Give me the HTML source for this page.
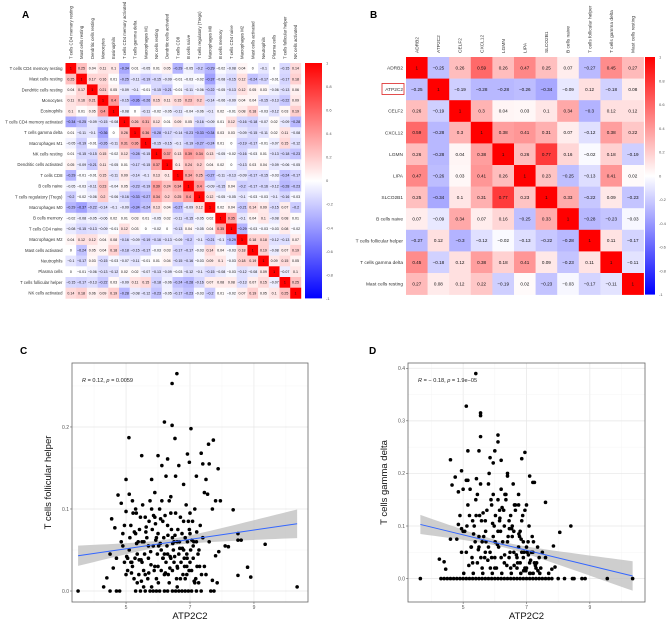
<!DOCTYPE html>
<html><head><meta charset="utf-8"><style>
html,body{margin:0;padding:0;background:#fff;}
svg{display:block;font-family:"Liberation Sans",sans-serif;}
</style></head><body>
<svg id="fig" width="669" height="623" viewBox="0 0 669 623" xmlns="http://www.w3.org/2000/svg">
<text x="22" y="18" font-size="10" font-weight="bold">A</text>
<text x="370" y="18" font-size="10" font-weight="bold">B</text>
<text x="20" y="354" font-size="10" font-weight="bold">C</text>
<text x="369" y="354" font-size="10" font-weight="bold">D</text>
<g id="gA"></g>
<g id="gB"></g>
<g id="gC"></g>
<g id="gD"></g>
</svg>
<script>
const labelsA = ["T cells CD4 memory resting","Mast cells resting","Dendritic cells resting","Monocytes","Eosinophils","T cells CD4 memory activated","T cells gamma delta","Macrophages M1","NK cells resting","Dendritic cells activated","T cells CD8","B cells naive","T cells regulatory (Tregs)","Macrophages M0","B cells memory","T cells CD4 naive","Macrophages M2","Mast cells activated","Neutrophils","Plasma cells","T cells follicular helper","NK cells activated"];
const matA = [
[1,0.25,0.04,0.11,0.1,-0.34,0.01,-0.05,0.01,0.05,-0.29,-0.05,-0.2,-0.29,-0.02,-0.08,0.04,0,-0.1,0,-0.15,0.14],
[0.25,1,0.17,0.16,0.01,-0.25,-0.11,-0.19,-0.15,-0.09,-0.01,-0.03,-0.02,-0.37,-0.08,-0.15,0.12,-0.24,-0.17,-0.01,-0.17,0.18],
[0.04,0.17,1,0.21,0.05,-0.09,-0.1,-0.01,-0.15,-0.21,-0.01,-0.11,-0.06,-0.22,-0.05,-0.13,0.12,0.05,0.03,-0.06,-0.13,0.06],
[0.11,0.16,0.21,1,0.4,-0.15,-0.36,-0.26,0.15,0.11,0.15,0.23,0.2,-0.14,-0.06,-0.09,0.04,0.04,-0.15,-0.13,-0.22,0.09],
[0.1,0.01,0.05,0.4,1,-0.08,0,-0.11,-0.02,-0.05,-0.11,-0.04,-0.06,-0.1,0.02,-0.01,0.08,0.18,-0.03,-0.12,0.03,0.19],
[-0.34,-0.25,-0.09,-0.15,-0.08,1,0.26,0.31,0.12,0.01,0.09,0.05,-0.16,-0.09,0.01,0.12,-0.16,-0.18,-0.07,0.02,-0.09,-0.28],
[0.01,-0.11,-0.1,-0.36,0,0.26,1,0.36,-0.28,-0.17,-0.14,-0.23,-0.33,-0.34,0.03,0.03,-0.09,-0.15,-0.11,0.02,0.11,-0.08],
[-0.05,-0.19,-0.01,-0.26,-0.11,0.31,0.36,1,-0.15,-0.15,-0.1,-0.19,-0.27,-0.24,0.01,0,-0.19,-0.17,-0.01,-0.07,0.15,-0.12],
[0.01,-0.15,-0.15,0.15,-0.02,0.12,-0.28,-0.15,1,0.37,0.13,0.39,0.34,0.13,-0.05,-0.02,-0.16,-0.03,0.01,-0.13,-0.18,-0.23],
[0.05,-0.09,-0.21,0.11,-0.05,0.01,-0.17,-0.15,0.37,1,0.1,0.24,0.2,0.04,0.02,0,-0.13,0.03,0.04,-0.09,-0.06,-0.05],
[-0.29,-0.01,-0.01,0.15,-0.11,0.09,-0.14,-0.1,0.13,0.1,1,0.34,0.25,-0.27,-0.11,-0.13,-0.09,-0.17,-0.15,-0.03,-0.24,-0.17],
[-0.05,-0.03,-0.11,0.23,-0.04,0.05,-0.23,-0.19,0.39,0.24,0.34,1,0.4,-0.09,-0.15,0.04,-0.2,-0.17,-0.16,-0.12,-0.28,-0.23],
[-0.2,-0.02,-0.06,0.2,-0.06,-0.16,-0.33,-0.27,0.34,0.2,0.25,0.4,1,0.12,-0.05,-0.05,-0.1,-0.03,-0.03,-0.1,-0.16,-0.03],
[-0.29,-0.37,-0.22,-0.14,-0.1,-0.09,-0.34,-0.24,0.13,0.04,-0.27,-0.09,0.12,1,0.02,0.04,-0.21,0.14,0.09,-0.15,0.07,-0.2],
[-0.02,-0.08,-0.05,-0.06,0.02,0.01,0.03,0.01,-0.05,0.02,-0.11,-0.15,-0.05,0.02,1,0.35,-0.1,0.04,0.1,-0.08,0.08,0.01],
[-0.08,-0.15,-0.13,-0.09,-0.01,0.12,0.03,0,-0.02,0,-0.13,0.04,-0.05,0.04,0.35,1,-0.29,-0.03,-0.03,-0.03,0.08,-0.02],
[0.04,0.12,0.12,0.04,0.08,-0.16,-0.09,-0.19,-0.16,-0.13,-0.09,-0.2,-0.1,-0.21,-0.1,-0.29,1,0.18,0.18,-0.12,-0.13,0.07],
[0,-0.24,0.05,0.04,0.18,-0.18,-0.15,-0.17,-0.03,0.03,-0.17,-0.17,-0.03,0.14,0.04,-0.03,0.18,1,0.19,-0.08,0.07,0.19],
[-0.1,-0.17,0.03,-0.15,-0.03,-0.07,-0.11,-0.01,0.01,0.04,-0.15,-0.16,-0.03,0.09,0.1,-0.03,0.18,0.19,1,0.09,0.15,0.05],
[0,-0.01,-0.06,-0.13,-0.12,0.02,0.02,-0.07,-0.13,-0.09,-0.03,-0.12,-0.1,-0.15,-0.08,-0.03,-0.12,-0.08,0.09,1,-0.07,0.1],
[-0.15,-0.17,-0.13,-0.22,0.03,-0.09,0.11,0.15,-0.18,-0.06,-0.24,-0.28,-0.16,0.07,0.08,0.08,-0.13,0.07,0.15,-0.07,1,0.25],
[0.14,0.18,0.06,0.09,0.19,-0.28,-0.08,-0.12,-0.23,-0.05,-0.17,-0.23,-0.03,-0.2,0.01,-0.02,0.07,0.19,0.05,0.1,0.25,1]];
const labelsB = ["ADRB2","ATP2C2","CELF2","CXCL12","LGMN","LIPA","SLCO2B1","B cells naive","T cells follicular helper","T cells gamma delta","Mast cells resting"];
const matB = [
[1,-0.25,0.26,0.59,0.26,0.47,0.25,0.07,-0.27,0.45,0.27],
[-0.25,1,-0.19,-0.28,-0.28,-0.26,-0.34,-0.09,0.12,-0.18,0.08],
[0.26,-0.19,1,0.3,0.04,0.03,0.1,0.34,-0.3,0.12,0.12],
[0.59,-0.28,0.3,1,0.38,0.41,0.31,0.07,-0.12,0.38,0.22],
[0.26,-0.28,0.04,0.38,1,0.26,0.77,0.16,-0.02,0.18,-0.19],
[0.47,-0.26,0.03,0.41,0.26,1,0.23,-0.25,-0.13,0.41,0.02],
[0.25,-0.34,0.1,0.31,0.77,0.23,1,0.33,-0.22,0.09,-0.23],
[0.07,-0.09,0.34,0.07,0.16,-0.25,0.33,1,-0.28,-0.23,-0.03],
[-0.27,0.12,-0.3,-0.12,-0.02,-0.13,-0.22,-0.28,1,0.11,-0.17],
[0.45,-0.18,0.12,0.38,0.18,0.41,0.09,-0.23,0.11,1,-0.11],
[0.27,0.08,0.12,0.22,-0.19,0.02,-0.23,-0.03,-0.17,-0.11,1]];
const cbTicks = [1,0.8,0.6,0.4,0.2,0,-0.2,-0.4,-0.6,-0.8,-1];

const cXs = [6.59,6.44,6.2,6.44,7.03,5.09,6.53,7.73,7.58,5.49,6.0,6.92,7.35,6.3,6.98,6.65,6.12,7.88,7.4,7.6,5.0,5.8,6.25,6.55,7.2,7.5,6.8,4.55,4.65,4.75,4.85,5.1,5.2,5.3,5.0,4.95,4.9,8.35,8.5,8.5,8.1,8.2,9.35,8.6,8.8,8.9,8.5,10.35,3.5,4.3,4.4,4.5,4.7,4.8,4.5,4.6,4.7,7.8,7.9,7.7,7.65,7.75,7.85,7.5,7.95,7.8,7.7,7.45,7.55,
5.3,5.45,5.6,5.75,5.85,5.95,6.05,6.2,6.3,6.45,6.55,6.65,6.75,6.85,6.95,7.05,7.2,7.35,
5.1,5.2,5.3,5.4,5.5,5.6,5.7,5.8,5.9,6.0,6.1,6.2,6.3,6.4,6.5,6.6,6.7,6.8,6.9,7.0,7.1,7.2,7.3,
5.15,5.25,5.35,5.45,5.55,5.65,5.75,5.85,5.95,6.05,6.15,6.25,6.35,6.45,6.55,6.65,6.75,6.85,6.95,7.05,7.15,7.25,
5.05,5.22,5.38,5.52,5.68,5.82,5.98,6.12,6.28,6.42,6.58,6.72,6.88,7.02,7.18,7.32,
5.12,5.28,5.42,5.58,5.72,5.88,6.02,6.18,6.32,6.48,6.62,6.78,6.92,7.08,7.22,7.4,
5.5,5.9,6.1,6.4,6.6,6.8,7.0,6.2,6.0,5.7,6.5,6.7,6.9,7.1,5.6,6.3,6.45,6.85,5.95,6.15,4.9,5.0,5.15,5.35,5.55,5.8,6.35,6.6,6.9,7.15,
5.18,5.33,5.48,5.63,5.78,5.93,6.08,6.23,6.38,6.53,6.68,6.83,6.98,7.13,7.28,5.26,5.41,5.56,5.71,5.86,6.01,6.16,6.31,6.46,6.61,6.76,6.91,7.06,7.21,7.36,
5.02,5.17,5.32,5.47,5.62,5.77,5.92,6.07,6.22,6.37,6.52,6.67,6.82,6.97,7.12,7.27,4.85,4.95,5.05,7.45,7.6,7.0,6.4,5.9];
const cYs = [.265,.253,.206,.202,.198,.187,.186,.184,.179,.165,.165,.167,.168,.161,.157,.153,.153,.149,.155,.155,.136,.136,.14,.14,.14,.136,.13,.088,.077,.117,.107,.118,.11,.1,.097,.08,.07,.099,.07,.062,.055,.054,.057,.062,.029,.017,.019,.005,0,.005,.016,0,0,0,.045,.028,.04,.043,.048,.013,0,0,.01,.02,.11,.11,.1,.12,.118,
0,0,0,0,0,0,0,0,0,0,0,0,0,0,0,0,0,0,
.05,.03,.07,.02,.06,.09,.04,.1,.03,.07,.05,.02,.08,.04,.06,.03,.09,.05,.02,.07,.04,.06,.03,
.08,.015,.045,.09,.025,.065,.11,.055,.015,.1,.085,.035,.11,.025,.095,.045,.07,.015,.085,.025,.1,.045,
.025,.095,.06,.105,.015,.075,.045,.11,.055,.075,.015,.035,.105,.05,.015,.08,
.065,.04,.075,.045,.085,.025,.055,.065,.02,.05,.075,.02,.06,.085,.03,.065,
.035,.09,.025,.095,.06,.085,.035,.045,.03,.055,.035,.015,.045,.055,.02,.045,.065,.065,.065,.04,.055,.02,.035,.01,.005,.005,.01,.005,.03,.01,
.035,.058,.012,.078,.032,.062,.088,.022,.042,.068,.052,.03,.075,.012,.05,.072,.038,.06,.022,.092,.01,.04,.068,.058,.028,.052,.04,.062,.072,.02,
.042,.022,.095,.038,.072,.048,.082,.058,.092,.028,.042,.06,.04,.025,.06,.01,.06,.035,.04,.03,.06,.095,.115,.12];
const cFit = [3.5,0.043,10.35,0.082];
const cBand = [6.3,0.004,0.0000176];

const dXs = [5.4,5.1,5.55,5.55,5.55,6.1,6.1,5.15,5.5,6.0,6.95,4.6,5.85,6.85,6.2,5.95,4.95,7.1,4.75,5.1,5.15,7.2,7.25,6.4,4.65,5.0,4.85,7.6,8.4,8.05,7.85,7.9,7.8,4.25,4.4,4.45,4.6,4.8,4.85,4.9,4.95,5.0,
3.65,4.3,4.4,4.5,4.6,4.7,4.8,4.9,5.0,5.1,5.2,5.3,5.4,5.5,5.6,5.7,5.8,5.9,6.0,6.1,6.2,6.3,6.4,6.5,6.6,6.7,6.8,6.9,7.0,7.1,7.2,7.3,7.4,7.5,7.6,7.7,7.8,8.0,8.2,8.45,8.5,8.75,8.85,9.55,10.35,
5.1,5.2,5.3,5.4,5.5,5.6,5.7,5.8,5.9,6.0,6.1,6.2,6.3,6.4,6.5,6.6,6.7,6.8,6.9,7.0,7.1,7.2,7.3,7.4,
5.15,5.25,5.35,5.45,5.55,5.65,5.75,5.85,5.95,6.05,6.15,6.25,6.35,6.45,6.55,6.65,6.75,6.85,6.95,7.05,7.15,7.25,7.35,7.45,
5.05,5.22,5.38,5.52,5.68,5.82,5.98,6.12,6.28,6.42,6.58,6.72,6.88,7.02,7.18,7.32,7.5,
5.12,5.28,5.42,5.58,5.72,5.88,6.02,6.18,6.32,6.48,6.62,6.78,6.92,7.08,7.22,7.6,
5.5,5.9,6.1,6.4,6.6,6.8,7.0,6.2,6.0,5.7,6.5,6.7,6.9,7.1,5.6,6.3,6.45,6.85,5.95,6.15,5.3,5.8,6.55,6.75,7.0,6.95,6.65,
5.18,5.33,5.48,5.63,5.78,5.93,6.08,6.23,6.38,6.53,6.68,6.83,6.98,7.13,7.28,5.26,5.41,5.56,5.71,5.86,6.01,6.16,6.31,6.46,6.61,6.76,6.91,7.06,7.21,7.36,
5.02,5.32,5.62,5.92,6.22,6.52,6.82,7.12,7.42,7.7,4.95,5.45,6.35,6.75];
const dYs = [.39,.328,.315,.31,.27,.273,.26,.243,.243,.243,.24,.226,.23,.228,.225,.22,.205,.195,.193,.187,.187,.183,.183,.195,.178,.17,.165,.145,.1,.088,.062,.022,.018,.037,.032,.018,.075,.075,.103,.12,.095,.09,
0,0,0,0,0,0,0,0,0,0,0,0,0,0,0,0,0,0,0,0,0,0,0,0,0,0,0,0,0,0,0,0,0,0,0,0,0,0,0,0,0,0,0,0,0,
.05,.12,.03,.15,.08,.02,.11,.06,.14,.04,.09,.17,.03,.07,.12,.05,.02,.09,.04,.06,.03,.05,.02,.04,
.14,.06,.1,.03,.18,.08,.13,.05,.16,.02,.11,.07,.15,.04,.1,.13,.06,.11,.02,.07,.05,.03,.06,.02,
.09,.17,.07,.12,.04,.2,.1,.06,.13,.08,.18,.03,.12,.05,.08,.03,.05,
.1,.04,.19,.11,.07,.15,.12,.09,.16,.05,.14,.08,.05,.1,.07,.04,
.06,.04,.15,.2,.09,.03,.14,.04,.02,.05,.02,.04,.07,.01,.07,.1,.11,.05,.08,.13,.11,.18,.08,.16,.02,.13,.14,
.025,.085,.055,.125,.035,.105,.065,.135,.025,.095,.045,.075,.015,.035,.025,.06,.12,.04,.09,.02,.07,.115,.045,.095,.025,.085,.015,.045,.01,.015,
.01,.01,.01,.01,.01,.01,.01,.01,.01,.01,.05,.16,.16,.14];
const dFit = [3.65,0.103,10.35,0.005];
const dBand = [6.25,0.005,0.0000451];

const NS="http://www.w3.org/2000/svg";
function mk(tag,attrs,parent){const e=document.createElementNS(NS,tag);for(const k in attrs)e.setAttribute(k,attrs[k]);parent.appendChild(e);return e;}
function col(v){v=Math.max(-1,Math.min(1,v));let r,g,b;if(v>=0){r=255;g=b=Math.round(255*(1-v));}else{b=255;r=g=Math.round(255*(1+v));}return `rgb(${r},${g},${b})`;}
function fmt(v){if(v===1)return "1";let s=Math.abs(v).toFixed(2).replace(/0$/,"").replace(/\.0?$/,"");if(s==="")s="0";return (v<0?"\u2212":"")+s;}

function heatmap(g,labels,mat,x0,y0,cell,fs,lfs,cb,key){
  const n=labels.length;
  for(let i=0;i<n;i++){
    const rl=mk('text',{x:x0-3,y:y0+cell*i+cell/2+lfs*0.35,'font-size':lfs,'text-anchor':'end',fill:'#333'},g);
    
    
    rl.textContent=labels[i];
    const cx=x0+cell*i+cell/2+lfs*0.35, cy=y0-4;
    const cl=mk('text',{x:cx,y:cy,'font-size':lfs,transform:`rotate(-90 ${cx} ${cy})`,fill:'#333'},g);
    
    
    cl.textContent=labels[i];
    for(let j=0;j<n;j++){
      const v=mat[i][j];
      const r=mk('rect',{x:x0+cell*j,y:y0+cell*i,width:cell+0.3,height:cell+0.3,fill:col(v)},g);
      
      
      const t=mk('text',{x:x0+cell*j+cell/2,y:y0+cell*i+cell/2+fs*0.35,'font-size':fs,'text-anchor':'middle',fill:'#111'},g);
      
      
      t.textContent=fmt(v);
    }
  }
  const H=cell*n;
  const gid='grad'+key;
  const defs=mk('defs',{},g);
  const lg=mk('linearGradient',{id:gid,x1:0,y1:0,x2:0,y2:1},defs);
  mk('stop',{offset:'0','stop-color':'#ff0000'},lg);mk('stop',{offset:'0.5','stop-color':'#ffffff'},lg);mk('stop',{offset:'1','stop-color':'#0000ff'},lg);
  const bar=mk('rect',{x:cb[0],y:y0,width:cb[1],height:H,fill:`url(#${gid})`},g);
  
  
  cbTicks.forEach(t=>{
    const yy=y0+(1-t)/2*H;
    const tl=mk('text',{x:cb[0]+cb[1]+4,y:yy+1.5,'font-size':4,fill:'#555'},g);
    
    
    tl.textContent=String(t);
  });
}
heatmap(document.getElementById('gA'),labelsA,matA,65.5,63,10.7,3.6,4.3,[305,17],'a');
heatmap(document.getElementById('gB'),labelsB,matB,406,57,21.6,4.6,4.8,[645,10],'b');
{const g=document.getElementById('gB');const bx=mk('rect',{x:382,y:83.5,width:22,height:11,fill:'none',stroke:'#d22',"stroke-width":0.8},g);

}

function scatter(g,xs,ys,fit,band,cfg){
  const sx=v=>cfg.px+ (v-cfg.xmin)/(cfg.xmax-cfg.xmin)*cfg.pw;
  const sy=v=>cfg.py+cfg.ph-(v-cfg.ymin)/(cfg.ymax-cfg.ymin)*cfg.ph;
  const bg=mk('rect',{x:cfg.px,y:cfg.py,width:cfg.pw,height:cfg.ph,fill:'#fff'},g);
  
  
  for(let v=Math.ceil(cfg.xmin);v<=cfg.xmax;v+=1){
    const l=mk('line',{x1:sx(v),x2:sx(v),y1:cfg.py,y2:cfg.py+cfg.ph,stroke:v%2?'#e6e6e6':'#f2f2f2','stroke-width':v%2?0.7:0.4},g);
    
    
  }
  for(let k=Math.ceil(cfg.ymin/0.05);k*0.05<=cfg.ymax;k++){
    const v=k*0.05;
    const l=mk('line',{x1:cfg.px,x2:cfg.px+cfg.pw,y1:sy(v),y2:sy(v),stroke:k%2?'#f2f2f2':'#e6e6e6','stroke-width':k%2?0.4:0.7},g);
    
    
  }
  cfg.yticks.forEach(v=>{
    const t=mk('text',{x:cfg.px-3,y:sy(v)+1.8,'font-size':5,'text-anchor':'end',fill:'#555'},g);
    
    
    t.textContent=v.toFixed(1);
    mk('line',{x1:cfg.px-2,x2:cfg.px,y1:sy(v),y2:sy(v),stroke:'#444','stroke-width':0.5},g);
  });
  cfg.xticks.forEach(v=>{
    const t=mk('text',{x:sx(v),y:cfg.py+cfg.ph+7,'font-size':5,'text-anchor':'middle',fill:'#555'},g);
    
    
    t.textContent=String(v);
    mk('line',{x1:sx(v),x2:sx(v),y1:cfg.py+cfg.ph,y2:cfg.py+cfg.ph+2,stroke:'#444','stroke-width':0.5},g);
  });
  const slope=(fit[3]-fit[1])/(fit[2]-fit[0]);
  const yf=x=>fit[1]+slope*(x-fit[0]);
  const hw=x=>Math.sqrt(band[1]*band[1]+band[2]*(x-band[0])*(x-band[0]));
  let up=[],lo=[];
  for(let i=0;i<=30;i++){const x=fit[0]+(fit[2]-fit[0])*i/30;up.push(`${sx(x)},${sy(yf(x)+hw(x))}`);lo.unshift(`${sx(x)},${sy(yf(x)-hw(x))}`);}
  const bd=mk('polygon',{points:up.concat(lo).join(' '),fill:'#bdbdbd','fill-opacity':0.75},g);
  
  
  for(let i=0;i<xs.length;i++){
    const c=mk('circle',{cx:sx(xs[i]),cy:sy(ys[i]),r:1.8,fill:'#000'},g);
    
    
  }
  const ln=mk('line',{x1:sx(fit[0]),y1:sy(fit[1]),x2:sx(fit[2]),y2:sy(fit[3]),stroke:'#3366ff','stroke-width':1},g);
  
  
  const fr=mk('rect',{x:cfg.px,y:cfg.py,width:cfg.pw,height:cfg.ph,fill:'none',stroke:'#666','stroke-width':0.8},g);
  
  
  const an=mk('text',{x:cfg.px+10,y:cfg.py+19,'font-size':5.6,fill:'#222'},g);
  
  
  an.innerHTML=cfg.ann;
  const xt=mk('text',{x:cfg.px+cfg.pw/2,y:619,'font-size':9.5,'text-anchor':'middle',fill:'#111'},g);
  
  
  xt.textContent='ATP2C2';
  const yx=cfg.px-21, yy=cfg.py+cfg.ph/2;
  const yt=mk('text',{x:yx,y:yy,'font-size':9.5,'text-anchor':'middle',fill:'#111',transform:`rotate(-90 ${yx} ${yy})`},g);
  
  
  yt.textContent=cfg.ytitle;
}
scatter(document.getElementById('gC'),cXs,cYs,cFit,cBand,{px:72,py:363,pw:236,ph:239,xmin:3.31,xmax:10.69,ymin:-0.0134,ymax:0.278,xticks:[5,7,9],yticks:[0,0.1,0.2],ytitle:'T cells follicular helper',ann:'<tspan font-style="italic">R</tspan> = 0.12, <tspan font-style="italic">p</tspan> = 0.0059'});
scatter(document.getElementById('gD'),dXs,dYs,dFit,dBand,{px:408,py:363,pw:237,ph:239,xmin:3.26,xmax:10.74,ymin:-0.0445,ymax:0.41,xticks:[5,7,9],yticks:[0,0.1,0.2,0.3,0.4],ytitle:'T cells gamma delta',ann:'<tspan font-style="italic">R</tspan> = \u2212 0.18, <tspan font-style="italic">p</tspan> = 1.9e\u221205'});
</script>
</body></html>
